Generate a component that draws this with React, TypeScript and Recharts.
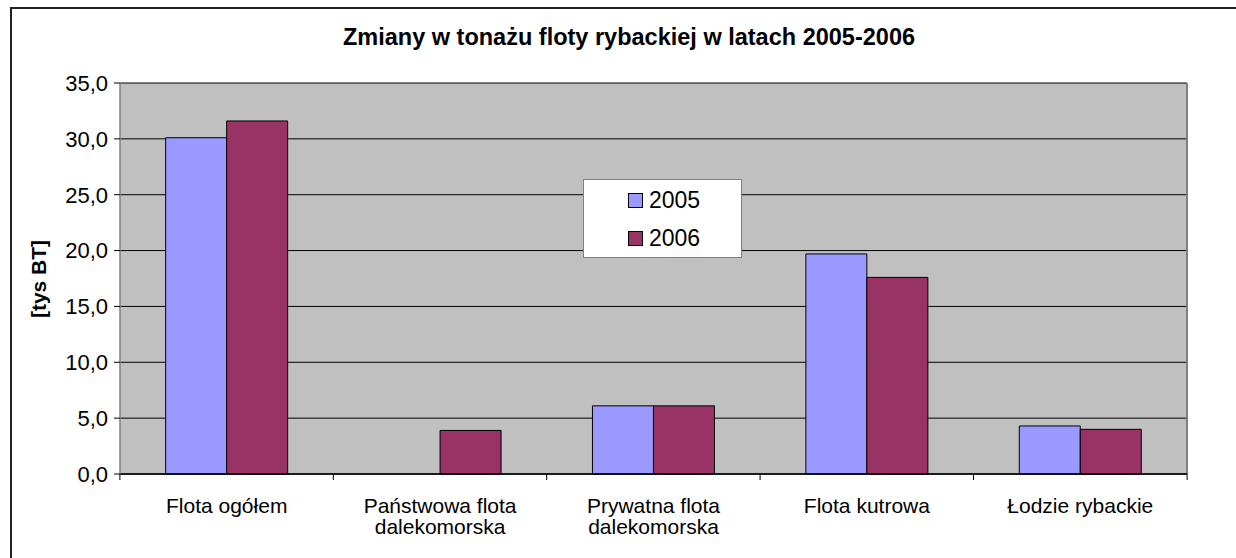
import React from 'react';
import { BarChart, Bar, XAxis, YAxis, CartesianGrid } from 'recharts';

const categories = [
  'Flota ogółem',
  'Państwowa flota dalekomorska',
  'Prywatna flota dalekomorska',
  'Flota kutrowa',
  'Łodzie rybackie',
];
const categoryLines = [
  ['Flota ogółem'],
  ['Państwowa flota', 'dalekomorska'],
  ['Prywatna flota', 'dalekomorska'],
  ['Flota kutrowa'],
  ['Łodzie rybackie'],
];
const values2005 = [30.1, 0, 6.1, 19.7, 4.3];
const values2006 = [31.6, 3.9, 6.1, 17.6, 4.0];
const seriesNames = ['2005', '2006'];
const seriesColors = ['#9999FF', '#993366'];
const yTicks = [0, 5, 10, 15, 20, 25, 30, 35];
const title = 'Zmiany w tonażu floty rybackiej w latach 2005-2006';
const yLabel = '[tys BT]';

const data = categories.map((c, i) => ({
  name: c,
  v2005: values2005[i],
  v2006: values2006[i],
}));

const W = 1236;
const H = 558;
const MARGIN = { top: 83, right: 48, bottom: 0, left: 0 };
const Y_AXIS_W = 120;
const X_AXIS_H = 84;
const PLOT_W = W - MARGIN.left - MARGIN.right - Y_AXIS_W;
const FONT = '"Liberation Sans", Arial, sans-serif';

const XTick = (props: any) => {
  const { x, y, index } = props;
  const band = PLOT_W / categories.length;
  const lines = categoryLines[index] || [];
  const isLast = index === categories.length - 1;
  return (
    <g>
      <line x1={x - band / 2} x2={x - band / 2} y1={y} y2={y + 6} stroke="#000" strokeWidth={1} />
      {isLast && (
        <line x1={x + band / 2} x2={x + band / 2} y1={y} y2={y + 6} stroke="#000" strokeWidth={1} />
      )}
      {lines.map((l: string, i: number) => (
        <text
          key={i}
          x={x}
          y={y + 39 + i * 21}
          textAnchor="middle"
          fontFamily={FONT}
          fontSize={21}
          fill="#000"
        >
          {l}
        </text>
      ))}
    </g>
  );
};

const LegendBox = () => (
  <div
    style={{
      position: 'absolute',
      left: 583,
      top: 179,
      width: 159,
      height: 79,
      boxSizing: 'border-box',
      background: '#fff',
      border: '1px solid #808080',
      fontFamily: FONT,
    }}
  >
    {seriesNames.map((s, i) => (
      <div
        key={s}
        style={{
          position: 'absolute',
          left: 44,
          top: 7 + i * 38,
          height: 26,
          display: 'flex',
          alignItems: 'center',
          fontSize: 23,
          color: '#000',
        }}
      >
        <span
          style={{
            display: 'inline-block',
            width: 13,
            height: 13,
            background: seriesColors[i],
            border: '1px solid #000',
            marginRight: 6,
          }}
        />
        <span>{s}</span>
      </div>
    ))}
  </div>
);

export default function App() {
  return (
    <div style={{ position: 'absolute', left: 0, top: 0, width: W, height: H, background: '#fff', overflow: 'hidden' }}>
      <style>{`html,body{margin:0;overflow:hidden;}`}</style>
      <div style={{ position: 'absolute', left: 10, top: 7, width: W - 10, height: 2, background: '#222' }} />
      <div style={{ position: 'absolute', left: 10, top: 7, width: 2, height: H - 7, background: '#222' }} />
      <div
        style={{
          position: 'absolute',
          left: 0,
          width: 1258,
          top: 24,
          textAlign: 'center',
          fontFamily: FONT,
          fontWeight: 'bold',
          fontSize: 23.5,
          lineHeight: '27px',
          color: '#000',
        }}
      >
        {title}
      </div>
      <div
        style={{
          position: 'absolute',
          left: 39,
          top: 279,
          transform: 'translate(-50%, -50%) rotate(-90deg)',
          fontFamily: FONT,
          fontWeight: 'bold',
          fontSize: 21,
          whiteSpace: 'nowrap',
          color: '#000',
        }}
      >
        {yLabel}
      </div>
      <div style={{ position: 'absolute', left: 0, top: 0 }}>
        <BarChart
          width={W}
          height={H}
          data={data}
          margin={MARGIN}
          barCategoryGap="21.4%"
          barGap={0}
        >
          <CartesianGrid
            vertical={false}
            horizontal={true}
            stroke="#000"
            strokeWidth={1}
            fill="#C0C0C0"
            fillOpacity={1}
          />
          <XAxis
            xAxisId="top"
            orientation="top"
            dataKey="name"
            height={0}
            tick={false}
            tickLine={false}
            axisLine={{ stroke: '#808080', strokeWidth: 2 }}
          />
          <YAxis
            yAxisId="right"
            orientation="right"
            width={1}
            domain={[0, 35]}
            tick={false}
            tickLine={false}
            axisLine={{ stroke: '#808080', strokeWidth: 2 }}
          />
          <XAxis
            dataKey="name"
            height={X_AXIS_H}
            interval={0}
            tickLine={false}
            tickSize={0}
            tickMargin={0}
            axisLine={{ stroke: '#000', strokeWidth: 1.5 }}
            tick={<XTick />}
          />
          <YAxis
            width={Y_AXIS_W}
            domain={[0, 35]}
            ticks={yTicks}
            interval={0}
            tickFormatter={(v: number) => v.toFixed(1).replace('.', ',')}
            tick={{ fontFamily: FONT, fontSize: 22, fill: '#000' }}
            tickLine={{ stroke: '#000' }}
            tickSize={6}
            tickMargin={6}
            axisLine={{ stroke: '#808080', strokeWidth: 1.5 }}
          />
          <Bar dataKey="v2005" name={seriesNames[0]} fill={seriesColors[0]} stroke="#000" strokeWidth={1} isAnimationActive={false} />
          <Bar dataKey="v2006" name={seriesNames[1]} fill={seriesColors[1]} stroke="#000" strokeWidth={1} isAnimationActive={false} />
        </BarChart>
      </div>
      <LegendBox />
    </div>
  );
}
